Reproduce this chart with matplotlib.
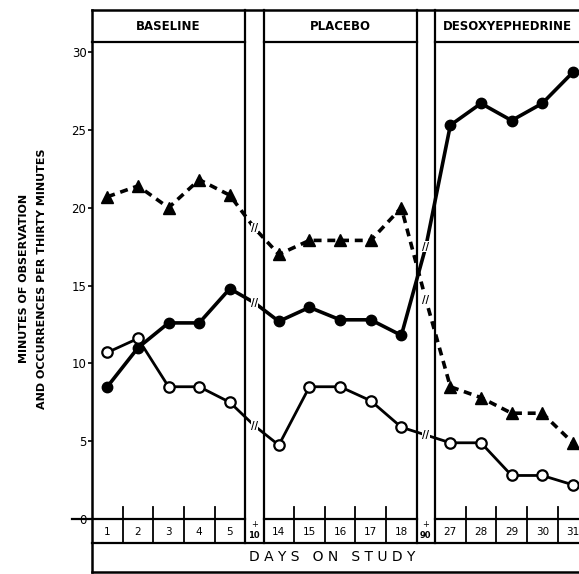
import numpy as np
import matplotlib.pyplot as plt

# values
days = [1, 2, 3, 4, 5, 14, 15, 16, 17, 18, 27, 28, 29, 30, 31]
strip_labels = ['10', '90']
phases = ['BASELINE', 'PLACEBO', 'DESOXYEPHEDRINE']

filled = [8.5, 11.0, 12.6, 12.6, 14.8, 12.7, 13.6, 12.8, 12.8, 11.8, 25.3, 26.7, 25.6, 26.7, 28.7]
filled_strip = [13.9, 17.5]
triangles = [20.7, 21.4, 20.0, 21.8, 20.8, 17.0, 17.9, 17.9, 17.9, 20.0, 8.5, 7.8, 6.8, 6.8, 4.9]
triangles_strip = [18.7, 14.1]
opened = [10.7, 11.6, 8.5, 8.5, 7.5, 4.75, 8.5, 8.5, 7.6, 5.9, 4.9, 4.9, 2.8, 2.8, 2.2]
opened_strip = [6.0, 5.4]

# layout: 3 panels of 5 cells, separated by narrow strips
panel_w = 5.0
strip_w = 0.6
panel_start = [0.0, panel_w + strip_w, 2 * (panel_w + strip_w)]
strip_start = [panel_w, 2 * panel_w + strip_w]
xmax = 15.9
ymin, ymax = -3.4, 32.7
row_bot = -1.54
head_y = 30.64

day_x = [panel_start[i // 5] + (i % 5) + 0.5 for i in range(len(days))]
strip_x = [s + strip_w / 2 for s in strip_start]


def merge(vals, svals):
    xs = day_x[:5] + [strip_x[0]] + day_x[5:10] + [strip_x[1]] + day_x[10:]
    ys = vals[:5] + [svals[0]] + vals[5:10] + [svals[1]] + vals[10:]
    return xs, ys


mark_idx = [i for i in range(17) if i not in (5, 11)]

fig = plt.figure(figsize=(5.79, 5.74), dpi=100)
ax = fig.add_axes([92 / 579, 2 / 574, 1 - 92 / 579, 562 / 574])
ax.set_xlim(0, xmax)
ax.set_ylim(ymin, ymax)

x, y = merge(triangles, triangles_strip)
ax.plot(x, y, color='black', lw=2.6, ls=(0, (2.2, 1.6)), marker='^', ms=8,
        markevery=mark_idx, zorder=3)
x, y = merge(filled, filled_strip)
ax.plot(x, y, color='black', lw=2.6, marker='o', ms=7.5,
        markevery=mark_idx, zorder=4)
x, y = merge(opened, opened_strip)
ax.plot(x, y, color='black', lw=2.0, marker='o', ms=7.5, mfc='white', mew=1.6,
        markevery=mark_idx, zorder=4)

# break marks on the strips
for sx, vals in zip(strip_x, zip(filled_strip, triangles_strip, opened_strip)):
    for v in vals:
        ax.text(sx, v, '//', ha='center', va='center', fontsize=7, fontweight='bold',
                bbox=dict(fc='white', ec='none', pad=0.2), zorder=6)

lk = dict(color='black', lw=1.6, clip_on=False, zorder=5)
# panels: header line, zero line, cell ticks
for i, p0 in enumerate(panel_start):
    p1 = min(p0 + panel_w, xmax)
    ax.plot([p0 - (0.65 if i == 0 else 0), p1], [0, 0], **lk)
    ax.plot([p0, p1], [head_y, head_y], **lk)
    for k in range(1, 5):
        ax.plot([p0 + k, p0 + k], [row_bot, 0.77], color='black', lw=1.3, zorder=5)
    ax.text((p0 + p1) / 2, (head_y + ymax) / 2, phases[i], ha='center', va='center',
            fontsize=8.5, fontweight='bold')
for s0, lab in zip(strip_start, strip_labels):
    ax.plot([s0, s0], [row_bot, ymax], **lk)
    ax.plot([s0 + strip_w, s0 + strip_w], [row_bot, ymax], **lk)
    ax.text(s0 + strip_w / 2, -0.35, '+', ha='center', va='center', fontsize=6)
    ax.text(s0 + strip_w / 2, -1.05, lab, ha='center', va='center', fontsize=6,
            fontweight='bold')
ax.plot([0, xmax], [row_bot, row_bot], **lk)

for dx, d in zip(day_x, days):
    ax.text(dx, -0.8, str(d), ha='center', va='center', fontsize=7.5)

ax.text(7.85, -2.45, 'D A Y S   O N   S T U D Y', ha='center', va='center', fontsize=10)

ax.set_xticks([])
ax.set_yticks(range(0, 31, 5))
ax.tick_params(axis='y', length=3, width=1.2, labelsize=8.5, pad=1)
for sp in ['left', 'top', 'bottom']:
    ax.spines[sp].set_linewidth(1.8)
ax.spines['right'].set_visible(False)

fig.text(33 / 579, 0.515, 'MINUTES OF OBSERVATION\nAND OCCURRENCES PER THIRTY MINUTES',
         rotation=90, ha='center', va='center', fontsize=8, fontweight='bold',
         linespacing=2.0)

fig.savefig('out.png', dpi=100)
